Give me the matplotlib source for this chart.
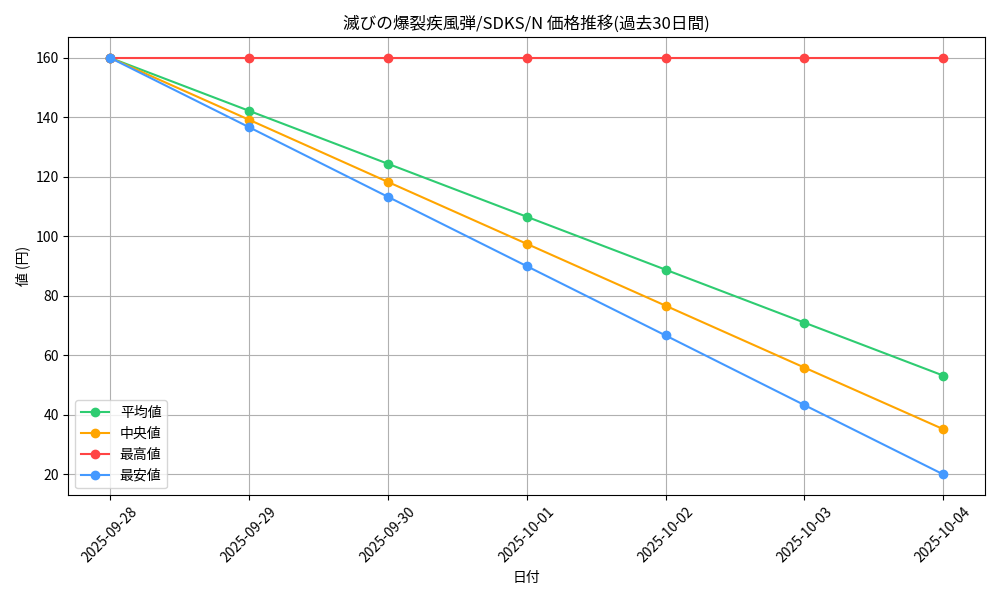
import matplotlib
matplotlib.use("Agg")
import matplotlib.pyplot as plt

plt.rcParams['font.family'] = ['Noto Sans CJK JP', 'DejaVu Sans']

dates = ["2025-09-28", "2025-09-29", "2025-09-30", "2025-10-01", "2025-10-02", "2025-10-03", "2025-10-04"]
avg_vals = [160, 142.2, 124.4, 106.6, 88.8, 71.0, 53.2]
median_vals = [160, 139.2, 118.3, 97.5, 76.7, 55.9, 35.2]
max_vals = [160, 160, 160, 160, 160, 160, 160]
min_vals = [160, 136.7, 113.3, 90.0, 66.7, 43.3, 20.0]

fig, ax = plt.subplots(figsize=(10, 6), dpi=100)
ax.plot(dates, avg_vals, marker="o", color="#2ecc71", label="平均値")
ax.plot(dates, median_vals, marker="o", color="#ffa500", label="中央値")
ax.plot(dates, max_vals, marker="o", color="#ff4444", label="最高値")
ax.plot(dates, min_vals, marker="o", color="#4499ff", label="最安値")

ax.set_title("滅びの爆裂疾風弾/SDKS/N 価格推移(過去30日間)")
ax.set_xlabel("日付")
ax.set_ylabel("値 (円)")
ax.grid(True)
ax.legend(loc="lower left")
plt.xticks(rotation=45)
plt.tight_layout()
plt.savefig("out.png")
